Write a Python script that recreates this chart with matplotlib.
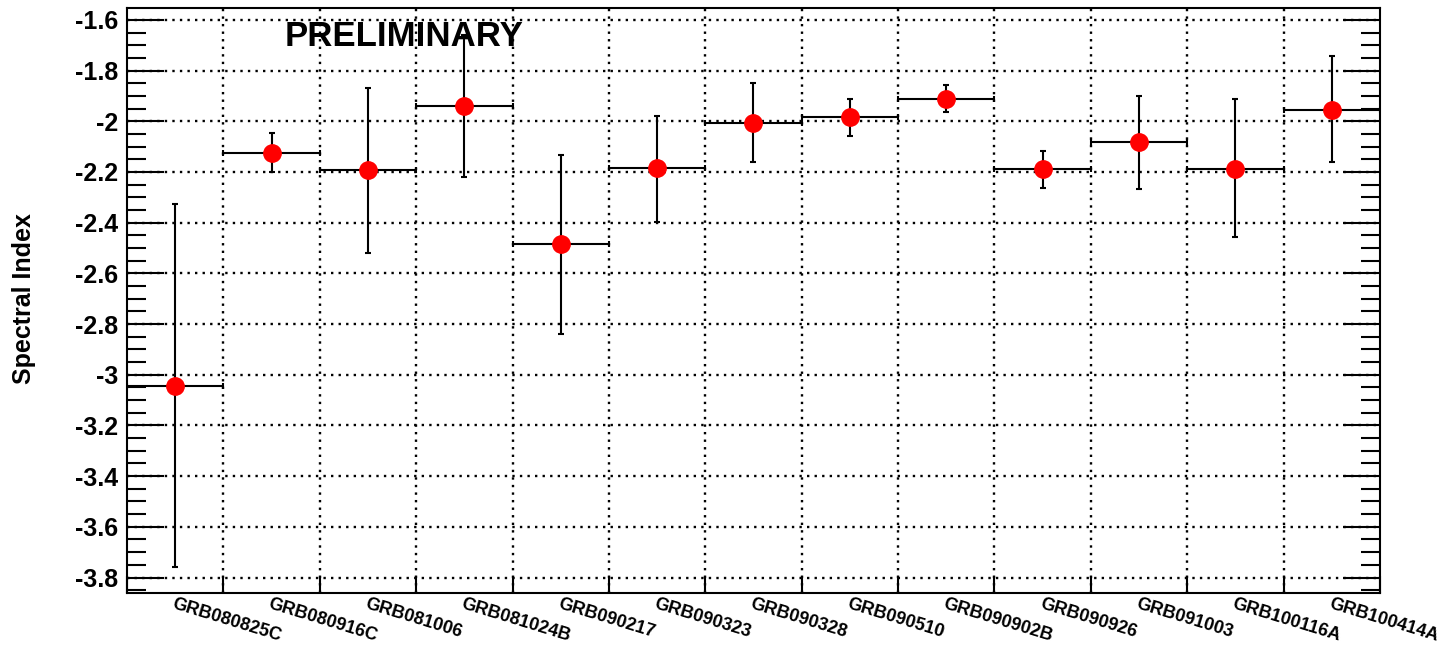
import matplotlib
matplotlib.use("Agg")
import matplotlib.pyplot as plt
from matplotlib.ticker import MultipleLocator, FixedLocator, FuncFormatter, NullFormatter
import numpy as np

plt.rcParams["font.family"] = ["Liberation Sans", "DejaVu Sans"]

# GRB names and fitted spectral indices
grb_names = ["GRB080825C", "GRB080916C", "GRB081006", "GRB081024B", "GRB090217",
             "GRB090323", "GRB090328", "GRB090510", "GRB090902B", "GRB090926",
             "GRB091003", "GRB100116A", "GRB100414A"]
spectral_index = [-3.043, -2.124, -2.193, -1.941, -2.486, -2.185, -2.006,
                  -1.985, -1.911, -2.189, -2.083, -2.189, -1.954]
err_up = [0.717, 0.076, 0.326, 0.280, 0.354, 0.206, 0.157,
          0.071, 0.054, 0.070, 0.184, 0.275, 0.210]
err_down = [0.717, 0.075, 0.326, 0.278, 0.352, 0.211, 0.156,
            0.074, 0.053, 0.075, 0.184, 0.269, 0.208]


def main():
    fig = plt.figure(figsize=(14.41, 6.48), dpi=100)
    ax = fig.add_axes([0.0881, 0.0853, 0.8696, 0.9024])

    n = len(grb_names)
    centers = np.arange(n) + 0.5
    edges = np.arange(n + 1)

    # grid: dotted, at bin edges and major y ticks
    grid_style = dict(color="black", lw=1.7, linestyle=(0, (1, 2.2)), zorder=1)
    for e in edges[1:-1]:
        ax.axvline(e, **grid_style)
    for yv in np.arange(-3.8, -1.55, 0.2):
        ax.axhline(yv, **grid_style)

    ax.errorbar(centers, spectral_index, xerr=0.5, yerr=[err_down, err_up],
                fmt="o", ms=12.5, mfc="red", mec="red", ecolor="black",
                elinewidth=1.5, capsize=2, capthick=1.5, zorder=3)

    ax.set_xlim(0, n)
    ax.set_ylim(-3.86, -1.553)

    # y axis
    ax.yaxis.set_major_locator(MultipleLocator(0.2))
    ax.yaxis.set_minor_locator(MultipleLocator(0.05))
    ax.yaxis.set_major_formatter(FuncFormatter(lambda v, p: "%g" % round(v, 2)))
    ax.tick_params(axis="y", which="both", direction="in", left=True, right=True,
                   labelsize=18, pad=6, width=1.5)
    ax.tick_params(axis="y", which="major", length=26.5)
    ax.tick_params(axis="y", which="minor", length=14)
    for lab in ax.get_yticklabels():
        lab.set_fontweight("bold")

    # x axis: tick marks at bin edges, labels at bin centers
    ax.xaxis.set_minor_locator(FixedLocator(edges))
    ax.xaxis.set_minor_formatter(NullFormatter())
    ax.set_xticks(centers)
    ax.set_xticklabels(grb_names, rotation=-17, ha="left", va="top",
                       rotation_mode="anchor", fontsize=13, fontweight="bold")
    ax.tick_params(axis="x", which="major", length=0, pad=2)
    ax.tick_params(axis="x", which="minor", direction="in", length=12.5,
                   width=1.5, top=False)

    for sp in ax.spines.values():
        sp.set_linewidth(1.5)

    fig.text(24 / 1441, 1 - 299 / 648, "Spectral Index", rotation=90,
             ha="center", va="center", fontsize=18, fontweight="bold")

    ax.text(0.126, 0.9355, "PRELIMINARY", transform=ax.transAxes,
            ha="left", va="baseline", fontsize=25, fontweight="bold", zorder=4)

    fig.savefig("out.png", dpi=100)
    plt.close(fig)


if __name__ == "__main__":
    main()
